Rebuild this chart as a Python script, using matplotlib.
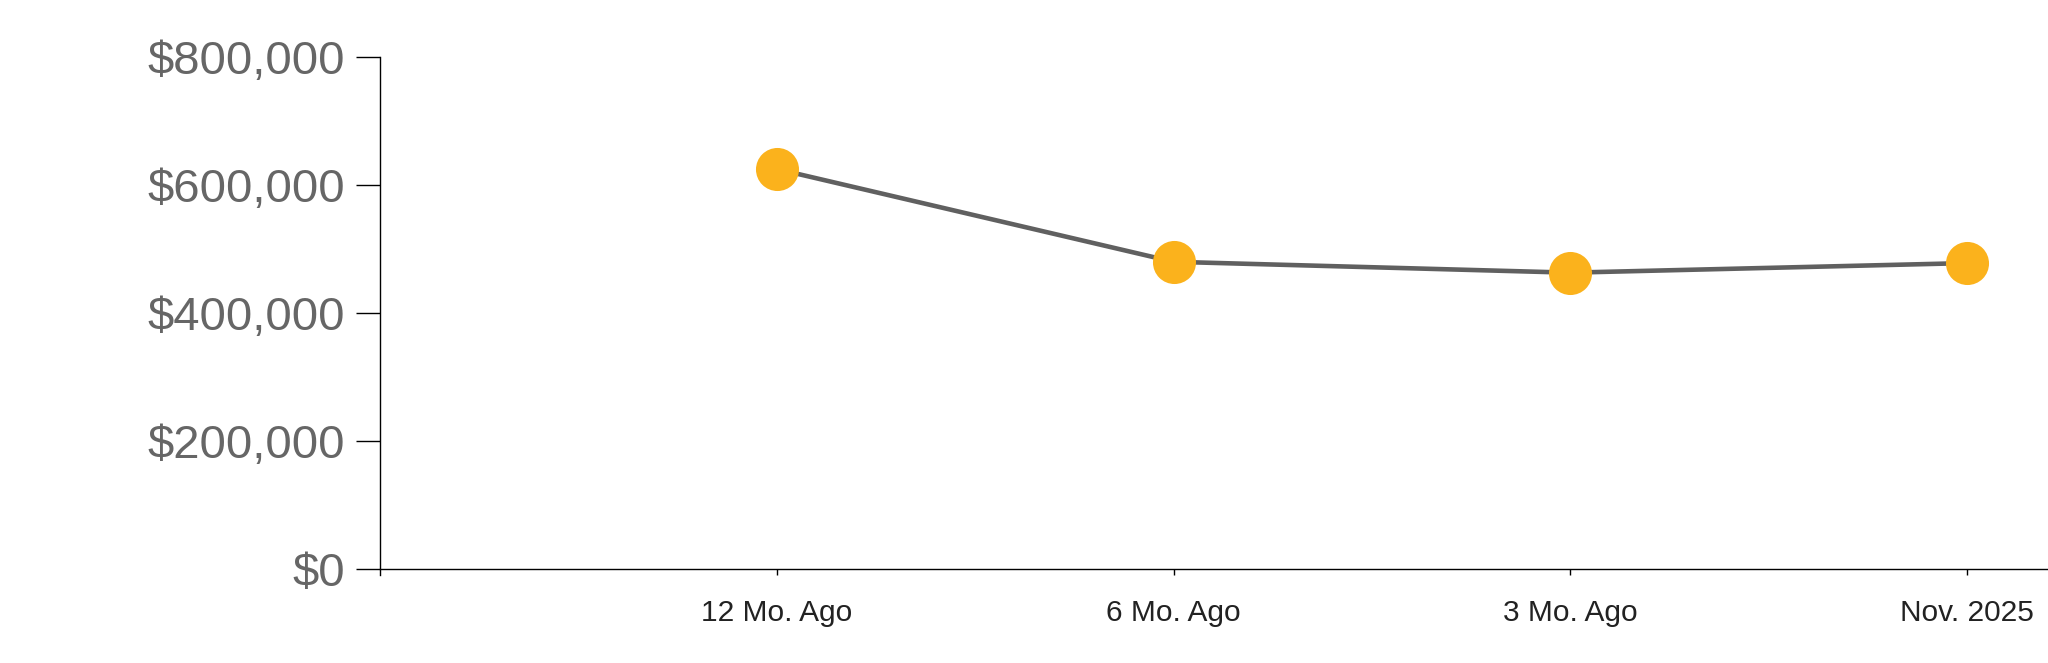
import matplotlib
matplotlib.use("Agg")
import matplotlib.pyplot as plt
from matplotlib.ticker import FuncFormatter

# Median price values
periods = ["12 Mo. Ago", "6 Mo. Ago", "3 Mo. Ago", "Nov. 2025"]
prices = [625000, 480000, 463000, 478000]
y_ticks = [0, 200000, 400000, 600000, 800000]

fig = plt.figure(figsize=(20.48, 6.63), dpi=100)
ax = fig.add_axes([380 / 2048, 94 / 663, 1 - 380 / 2048, 512 / 663])

x = list(range(len(periods)))
ax.plot(x, prices, color="#606060", linewidth=3.3, zorder=2)
ax.plot(x, prices, linestyle="none", marker="o", markersize=31,
        markerfacecolor="#FBB21C", markeredgewidth=0, zorder=3)

ax.set_xlim(-1.0, 3.204)
ax.set_ylim(0, 800000)

ax.set_yticks(y_ticks)
ax.yaxis.set_major_formatter(FuncFormatter(lambda v, p: f"${v:,.0f}"))
ax.set_xticks(x)
ax.set_xticklabels(periods)

for lab in ax.get_yticklabels():
    lab.set_family(["Liberation Sans", "DejaVu Sans"])
for lab in ax.get_xticklabels():
    lab.set_family(["Liberation Sans", "DejaVu Sans"])

ax.tick_params(axis="y", length=17, width=1, pad=8, labelsize=34, labelcolor="#666666")
ax.tick_params(axis="x", length=4.3, width=1, pad=17, labelsize=21.5, labelcolor="#222222")

for side in ["top", "right"]:
    ax.spines[side].set_visible(False)
for side in ["left", "bottom"]:
    ax.spines[side].set_linewidth(1)
ax.spines["left"].set_bounds(-9400, 800000)

fig.savefig("out.png", dpi=100)
